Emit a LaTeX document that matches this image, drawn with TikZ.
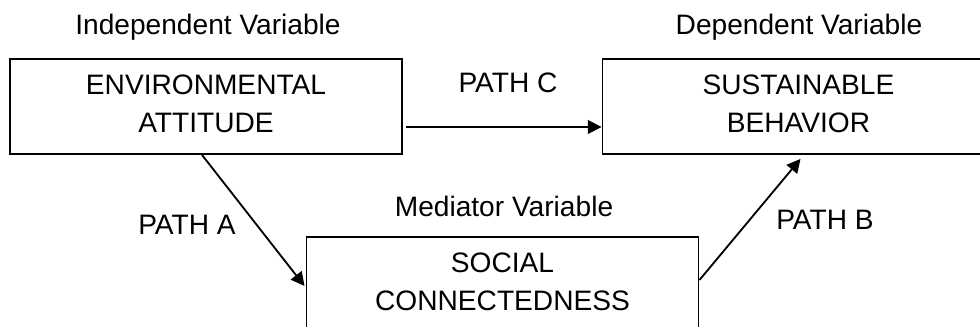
\documentclass[tikz,border=0pt]{standalone}
\usepackage{fontspec}
\setmainfont{Liberation Sans}
\usepackage{tikz}
\usetikzlibrary{arrows.meta}
\tikzset{
    varbox/.style={draw=black, line width=1.3pt, minimum width=9.8cm, minimum height=2.375cm,
        align=center, text depth=0.15cm, font=\fontsize{20}{27}\selectfont},
    vartag/.style={anchor=base, font=\fontsize{20}{24}\selectfont},
    pathlink/.style={-{Triangle[length=3.4mm, width=3.4mm]}, line width=1.3pt}}

\begin{document}
\begin{tikzpicture}[x=0.025cm, y=-0.025cm]
                
                    \useasboundingbox (0,0) rectangle (980,327);
                
                    \node[varbox] (EA) at (206,106.5) {ENVIRONMENTAL\\ATTITUDE};
                    \node[varbox] (SB) at (798.5,106.5) {SUSTAINABLE\\BEHAVIOR};
                    \node[varbox] (SC) at (502.5,284.5) {SOCIAL\\CONNECTEDNESS};
                
                    \node[vartag] (IV) at (208,35) {Independent Variable};
                    \node[vartag] (DV) at (799,35) {Dependent Variable};
                    \node[vartag] (MV) at (504,217) {Mediator Variable};
                
                    \node[vartag] (PA) at (187,235) {PATH A};
                    \node[vartag] (PB) at (825,230) {PATH B};
                    \node[vartag] (PC) at (508,93) {PATH C};
                
                    \draw[pathlink] ([shift={(3,20.5)}]EA.east) -- ([shift={(0,20.5)}]SB.west);
                    \draw[pathlink] ([shift={(-4,0)}]EA.south) -- ([shift={(-1,1.5)}]SC.west);
                    \draw[pathlink] ([shift={(0,-4.5)}]SC.east) -- ([shift={(2,4)}]SB.south);
            
                \end{tikzpicture}
\end{document}
